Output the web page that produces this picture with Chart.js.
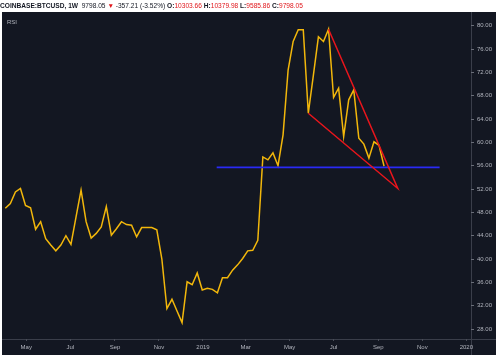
<!DOCTYPE html>
<html><head><meta charset="utf-8">
<script src="https://cdn.jsdelivr.net/npm/chart.js@4"></script>
<style>
html,body{margin:0;padding:0;background:#fff;width:500px;height:357px;overflow:hidden}
#wrap{position:relative;width:500px;height:357px}
#c{position:absolute;left:0;top:0}
#title{position:absolute;left:0;top:1px;font:6.6px "Liberation Sans",Arial,sans-serif;color:#131722;white-space:nowrap;line-height:9px}
#title b{font-weight:bold}
.r{color:#e0161b}
</style></head><body>
<div id="wrap"><canvas id="c" width="500" height="357"></canvas>
<div id="title"><b>COINBASE:BTCUSD, 1W</b>&nbsp; 9798.05 <span class="r">▼</span> -357.21 (-3.52%) <b>O:</b><span class="r">10303.66</span> <b>H:</b><span class="r">10379.98</span> <b>L:</b><span class="r">9585.86</span> <b>C:</b><span class="r">9798.05</span></div>
</div>
<script>
// ---- data ----
const startDate = '2018-04-02'; // first weekly bar
const rsiValues = [
  48.7, 49.5, 51.5, 52.1, 49.2, 48.8, 45.1, 46.4, 43.5, 42.4,
  41.4, 42.4, 44.0, 42.5, 47.2, 51.8, 46.4, 43.6, 44.4, 45.5,
  49.0, 44.1, 45.2, 46.4, 45.9, 45.8, 43.8, 45.4, 45.4, 45.4,
  45.0, 40.0, 31.5, 33.1, 31.1, 29.1, 36.1, 35.6, 37.6, 34.7,
  35.0, 34.8, 34.2, 36.8, 36.8, 38.1, 39.0, 40.1, 41.4, 41.5,
  43.2, 57.5, 57.0, 58.2, 56.0, 61.3, 72.4, 77.3, 79.3, 79.3,
  65.0, 71.5, 78.1, 77.3, 79.4, 67.7, 69.3, 61.0, 67.3, 69.0,
  60.7, 59.7, 57.3, 60.1, 59.5, 55.9
];
const yTickValues = [28, 32, 36, 40, 44, 48, 52, 56, 60, 64, 68, 72, 76, 80];
const monthTickDates = ['2018-05-01','2018-07-01','2018-09-01','2018-11-01','2019-01-01','2019-03-01','2019-05-01','2019-07-01','2019-09-01','2019-11-01','2020-01-01'];
const monthTickLabels = ['May','Jul','Sep','Nov','2019','Mar','May','Jul','Sep','Nov','2020'];
const wedgeDates = ['2019-05-27','2019-09-28','2019-06-24'];
const wedgeValues = [65.0, 52.1, 79.4];
const supportDates = ['2019-01-20','2019-11-25'];
const supportValues = [55.7, 55.7];
const panelLabel = 'RSI';

// ---- helpers ----
const DAY = 86400000, ORIGIN = Date.UTC(2019, 0, 1);
function dayNum(s){ const [y,m,d] = s.split('-').map(Number); return (Date.UTC(y,m-1,d) - ORIGIN) / DAY; }
const start = dayNum(startDate);
const rsiPoints = rsiValues.map((v,i) => ({x: start + 7*i, y: v}));
const wedgePoints = wedgeDates.map((d,i) => ({x: dayNum(d), y: wedgeValues[i]}));
const supportPoints = supportDates.map((d,i) => ({x: dayNum(d), y: supportValues[i]}));

const PANEL = '#131722', GRID = '#3a3e4a', TXT = '#b2b5be';

const panelPlugin = {
  id: 'panel',
  beforeDraw(chart){
    const ctx = chart.ctx, ca = chart.chartArea;
    ctx.save();
    ctx.fillStyle = '#ffffff';
    ctx.fillRect(0, 0, chart.width, chart.height);
    ctx.fillStyle = PANEL;
    ctx.fillRect(2, 12, 494, 343);
    ctx.strokeStyle = GRID; ctx.lineWidth = 1;
    ctx.beginPath();
    ctx.moveTo(2, Math.round(ca.bottom) + 0.5); ctx.lineTo(496, Math.round(ca.bottom) + 0.5);
    ctx.moveTo(Math.round(ca.right) + 0.5, 12); ctx.lineTo(Math.round(ca.right) + 0.5, 355);
    ctx.stroke();
    ctx.fillStyle = TXT;
    ctx.font = '6px "Liberation Sans", Arial, sans-serif';
    ctx.textBaseline = 'top';
    ctx.fillText(panelLabel, 7, 19);
    ctx.restore();
  }
};

new Chart(document.getElementById('c'), {
  type: 'line',
  data: {
    datasets: [
      {data: rsiPoints, borderColor: '#f2b70b', borderWidth: 1.5, pointRadius: 0, tension: 0, order: 3},
      {data: supportPoints, borderColor: '#2a2af5', borderWidth: 1.7, pointRadius: 0, tension: 0, order: 2},
      {data: wedgePoints, borderColor: '#e8151c', borderWidth: 1.5, pointRadius: 0, tension: 0, order: 1}
    ]
  },
  options: {
    responsive: false, animation: false, devicePixelRatio: 1,
    parsing: false,
    layout: {padding: {left: 3, top: 13, right: 3, bottom: 2}},
    plugins: {legend: {display: false}, tooltip: {enabled: false}},
    scales: {
      x: {
        type: 'linear', position: 'bottom', min: -277.2, max: 371.5,
        afterBuildTicks: s => { s.ticks = monthTickDates.map(d => ({value: dayNum(d)})); },
        afterFit: s => { s.height = 16; },
        ticks: {autoSkip: false, maxRotation: 0, color: TXT, padding: 3,
                font: {size: 6, family: '"Liberation Sans", Arial, sans-serif'},
                callback: (v, i) => monthTickLabels[i]},
        grid: {drawOnChartArea: false, drawTicks: true, tickLength: 2, color: '#4a4e59'},
        border: {display: false}
      },
      y: {
        type: 'linear', position: 'right', min: 26.29, max: 82.18,
        afterBuildTicks: s => { s.ticks = yTickValues.map(v => ({value: v})); },
        afterFit: s => { s.width = 26; },
        ticks: {color: TXT, padding: 3,
                font: {size: 6, family: '"Liberation Sans", Arial, sans-serif'},
                callback: v => Number(v).toFixed(2)},
        grid: {drawOnChartArea: false, drawTicks: true, tickLength: 3, color: '#6a6e79'},
        border: {display: false}
      }
    }
  },
  plugins: [panelPlugin]
});
</script>
</body></html>
